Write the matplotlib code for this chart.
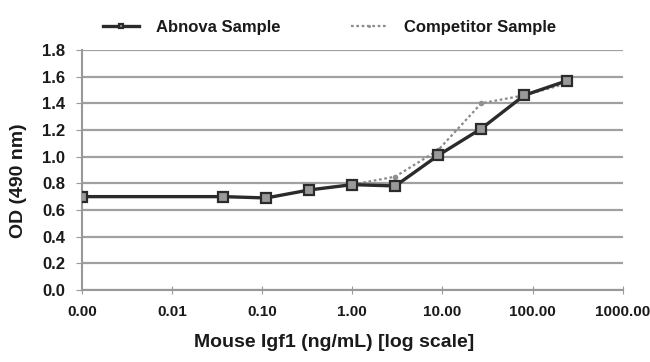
import numpy as np
import matplotlib.pyplot as plt

plt.rcParams['font.family'] = ['Liberation Sans', 'DejaVu Sans']
plt.rcParams['font.weight'] = 'bold'

# concentration (ng/mL); the 0 point is drawn at 0.001 on the log axis
conc = [0.001, 0.037, 0.111, 0.333, 1.0, 3.0, 9.0, 27.0, 81.0, 243.0]
abnova = [0.70, 0.70, 0.69, 0.75, 0.79, 0.78, 1.01, 1.21, 1.46, 1.57]
competitor = [0.70, 0.70, 0.69, 0.75, 0.79, 0.85, 1.05, 1.40, 1.46, 1.55]
xticks = [0.001, 0.01, 0.1, 1, 10, 100, 1000]
xticklabels = ["0.00", "0.01", "0.10", "1.00", "10.00", "100.00", "1000.00"]

fig = plt.figure(figsize=(6.5, 3.62), dpi=100)
ax = fig.add_axes([0.126, 0.199, 0.832, 0.663])

ax.plot(conc, abnova, color="#2b2b2b", lw=2.4, marker="s", ms=7.5,
        mfc="#9a9a9a", mec="#2b2b2b", mew=1.6, label="Abnova Sample", zorder=3)
ax.plot(conc, competitor, color="#8a8a8a", lw=1.6, ls=(0, (1.2, 1.2)), marker="o", ms=3,
        mfc="#909090", mec="#909090", label="Competitor Sample", zorder=2)

ax.set_xscale("log")
ax.set_xlim(0.001, 1000)
ax.set_ylim(0, 1.8)
ax.set_xticks(xticks)
ax.set_xticklabels(xticklabels)
ax.minorticks_off()
ax.set_yticks(np.arange(0, 1.81, 0.2))
ax.set_yticklabels([f"{v:.1f}" for v in np.arange(0, 1.81, 0.2)])
ax.yaxis.grid(True, color="#a0a0a0", lw=1.6)
ax.set_axisbelow(True)
for s in ["top", "right"]:
    ax.spines[s].set_visible(False)
for s in ["left", "bottom"]:
    ax.spines[s].set_color("#999999")
    ax.spines[s].set_linewidth(1.5)
ax.tick_params(axis="both", colors="#999999", labelcolor="#1a1a1a")
ax.tick_params(axis="x", direction="inout", length=6, pad=8, labelsize=11)
ax.tick_params(axis="y", direction="out", length=4, pad=8, labelsize=12)

ax.set_xlabel("Mouse Igf1 (ng/mL) [log scale]", fontsize=14, fontweight="bold", color="#1a1a1a")
ax.set_ylabel("OD (490 nm)", fontsize=14, fontweight="bold", color="#1a1a1a")
ax.xaxis.label.set_va("center")
ax.yaxis.label.set_va("center")
ax.xaxis.set_label_coords(0.466, -0.217)
ax.yaxis.set_label_coords(-0.118, 0.454)

leg = fig.legend(loc="center left", bbox_to_anchor=(0.158, 0.925), ncol=2, frameon=False,
                 fontsize=12, markerscale=0.4, handlelength=2.2, handletextpad=1.0,
                 columnspacing=4.2, borderpad=0, borderaxespad=0)
for t in leg.get_texts():
    t.set_color("#1a1a1a")

plt.savefig("out.png", dpi=100)
